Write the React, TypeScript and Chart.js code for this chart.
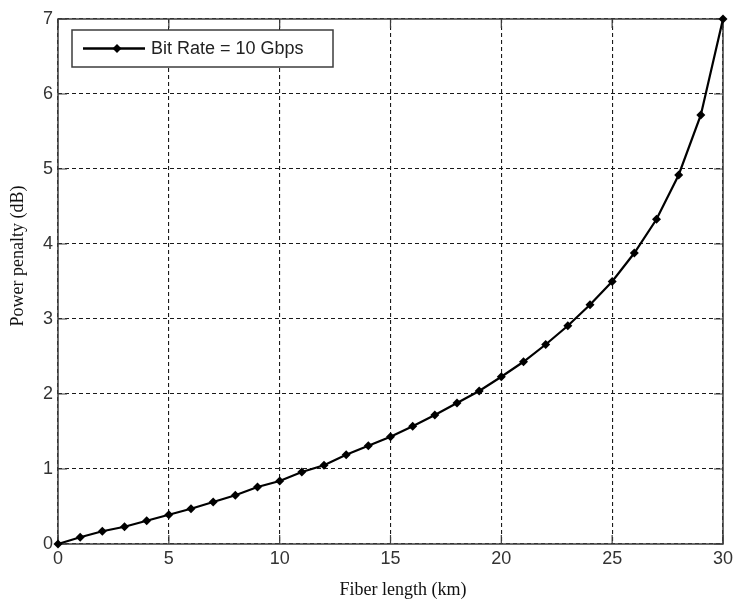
import React, { useEffect, useRef } from "react";
import { Chart, registerables } from "chart.js";

Chart.register(...registerables);

// Fiber length (km) and the matching power penalty (dB) at 10 Gbps
const fiberLengthKm = [
  0, 1, 2, 3, 4, 5, 6, 7, 8, 9, 10, 11, 12, 13, 14, 15, 16, 17, 18, 19, 20,
  21, 22, 23, 24, 25, 26, 27, 28, 29, 30,
];
const powerPenaltyDb = [
  0, 0.09, 0.17, 0.23, 0.31, 0.39, 0.47, 0.56, 0.65, 0.76, 0.84, 0.96, 1.05,
  1.19, 1.31, 1.43, 1.57, 1.72, 1.88, 2.04, 2.23, 2.43, 2.66, 2.91, 3.19, 3.5,
  3.88, 4.33, 4.92, 5.72, 7.0,
];
const xTicks = [0, 5, 10, 15, 20, 25, 30];
const yTicks = [0, 1, 2, 3, 4, 5, 6, 7];

const seriesLabel = "Bit Rate = 10 Gbps";
const xTitle = "Fiber length (km)";
const yTitle = "Power penalty (dB)";

const SANS = "'Liberation Sans', Arial, sans-serif";
const SERIF = "'Liberation Serif', 'Times New Roman', serif";

// Solid axes box with inward tick marks on all four sides
const framePlugin = {
  id: "frame",
  beforeDatasetsDraw(chart: any) {
    const { ctx, chartArea: a, scales } = chart;
    ctx.save();
    ctx.strokeStyle = "#3c3c3c";
    ctx.lineWidth = 1.5;
    ctx.setLineDash([]);
    ctx.strokeRect(a.left, a.top, a.right - a.left, a.bottom - a.top);
    ctx.lineWidth = 1.2;
    const len = 9;
    ctx.beginPath();
    for (const v of xTicks) {
      const x = scales.x.getPixelForValue(v);
      ctx.moveTo(x, a.top);
      ctx.lineTo(x, a.top + len);
      ctx.moveTo(x, a.bottom);
      ctx.lineTo(x, a.bottom - len);
    }
    for (const v of yTicks) {
      const y = scales.y.getPixelForValue(v);
      ctx.moveTo(a.left, y);
      ctx.lineTo(a.left + len, y);
      ctx.moveTo(a.right, y);
      ctx.lineTo(a.right - len, y);
    }
    ctx.stroke();
    ctx.restore();
  },
  afterDraw(chart: any) {
    const { ctx } = chart;
    ctx.save();
    // axis titles
    ctx.fillStyle = "#111";
    ctx.font = `18px ${SERIF}`;
    ctx.textAlign = "center";
    ctx.textBaseline = "middle";
    ctx.fillText(xTitle, 403, 590);
    ctx.translate(18, 256);
    ctx.rotate(-Math.PI / 2);
    ctx.fillText(yTitle, 0, 0);
    ctx.restore();

    // legend box
    ctx.save();
    const bx = 72, by = 30, bw = 261, bh = 37;
    ctx.fillStyle = "#fff";
    ctx.fillRect(bx, by, bw, bh);
    ctx.strokeStyle = "#3c3c3c";
    ctx.lineWidth = 1.5;
    ctx.strokeRect(bx, by, bw, bh);
    const cy = by + bh / 2;
    ctx.strokeStyle = "#000";
    ctx.lineWidth = 2.5;
    ctx.beginPath();
    ctx.moveTo(83, cy);
    ctx.lineTo(145, cy);
    ctx.stroke();
    ctx.fillStyle = "#000";
    ctx.beginPath();
    ctx.moveTo(117, cy - 4.5);
    ctx.lineTo(121.5, cy);
    ctx.lineTo(117, cy + 4.5);
    ctx.lineTo(112.5, cy);
    ctx.closePath();
    ctx.fill();
    ctx.fillStyle = "#222";
    ctx.font = `18px ${SANS}`;
    ctx.textAlign = "left";
    ctx.textBaseline = "middle";
    ctx.fillText(seriesLabel, 151, cy + 1);
    ctx.restore();
  },
};

export default function App() {
  const canvasRef = useRef<HTMLCanvasElement | null>(null);

  useEffect(() => {
    const canvas = canvasRef.current;
    if (!canvas) return;
    const chart = new Chart(canvas, {
      type: "line",
      data: {
        labels: fiberLengthKm,
        datasets: [
          {
            label: seriesLabel,
            data: fiberLengthKm.map((x, i) => ({ x, y: powerPenaltyDb[i] })),
            borderColor: "#000",
            backgroundColor: "#000",
            borderWidth: 2.2,
            pointStyle: "rectRot",
            pointRadius: 4.5,
            pointBorderWidth: 0,
            tension: 0,
            clip: false as any,
          },
        ],
      },
      options: {
        responsive: false,
        animation: false,
        events: [],
        layout: { padding: { top: 19, right: 11, left: 0, bottom: 0 } },
        plugins: {
          legend: { display: false },
          tooltip: { enabled: false },
          title: { display: false },
        },
        scales: {
          x: {
            type: "linear",
            min: 0,
            max: 30,
            afterFit: (s: any) => {
              s.height = 61;
              s.paddingLeft = 0;
              s.paddingRight = 0;
            },
            afterBuildTicks: (s: any) => {
              s.ticks = xTicks.map((v) => ({ value: v }));
            },
            ticks: {
              color: "#333",
              font: { family: SANS, size: 18 },
              padding: 4,
              maxRotation: 0,
            },
            grid: {
              color: "#1a1a1a",
              lineWidth: 1.1,
              drawTicks: false,
            },
            border: { display: false, dash: [4, 3] },
          },
          y: {
            type: "linear",
            min: 0,
            max: 7,
            afterFit: (s: any) => {
              s.width = 58;
              s.paddingTop = 0;
              s.paddingBottom = 0;
            },
            afterBuildTicks: (s: any) => {
              s.ticks = yTicks.map((v) => ({ value: v }));
            },
            ticks: {
              color: "#333",
              font: { family: SANS, size: 18 },
              padding: 5,
            },
            grid: {
              color: "#1a1a1a",
              lineWidth: 1.1,
              drawTicks: false,
            },
            border: { display: false, dash: [4, 3] },
          },
        },
      },
      plugins: [framePlugin],
    });
    return () => chart.destroy();
  }, []);

  return (
    <div
      style={{
        position: "fixed",
        left: 0,
        top: 0,
        width: 734,
        height: 605,
        background: "#fff",
      }}
    >
      <canvas ref={canvasRef} width={734} height={605} />
    </div>
  );
}
